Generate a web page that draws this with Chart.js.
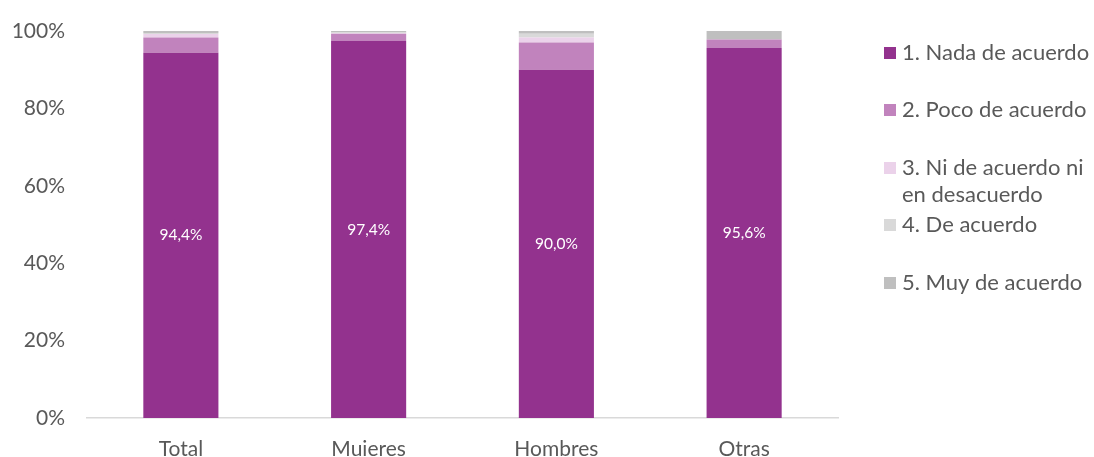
<!DOCTYPE html>
<html>
<head>
<meta charset="utf-8">
<script src="https://cdn.jsdelivr.net/npm/chart.js@4.4.1/dist/chart.umd.min.js"></script>
<style>
html,body{margin:0;padding:0;background:#fff;}
#wrap{width:1094px;height:457px;position:relative;}
</style>
</head>
<body>
<div id="wrap"><canvas id="c" width="1094" height="457"></canvas></div>
<script>
const categories = ["Total", "Muieres", "Hombres", "Otras"];
const seriesNames = ["1. Nada de acuerdo", "2. Poco de acuerdo", "3. Ni de acuerdo ni en desacuerdo", "4. De acuerdo", "5. Muy de acuerdo"];
const legendLines = [["1. Nada de acuerdo"], ["2. Poco de acuerdo"], ["3. Ni de acuerdo ni", "en desacuerdo"], ["4. De acuerdo"], ["5. Muy de acuerdo"]];
const nada = [94.4, 97.4, 90.0, 95.6];
const poco = [3.9, 1.9, 7.0, 2.2];
const ni = [0.9, 0.1, 1.3, 0.0];
const deAcuerdo = [0.3, 0.2, 1.0, 0.0];
const muy = [0.5, 0.4, 0.7, 2.2];
const yTicks = [0, 20, 40, 60, 80, 100];
const colors = ["#93328E", "#C183BD", "#EBD2EA", "#D9D9D9", "#BFBFBF"];

const values = [nada, poco, ni, deAcuerdo, muy];
const FONT = "Lato, 'Open Sans', sans-serif";

const labelPlugin = {
  id: 'barLabels',
  afterDatasetsDraw(chart) {
    const ctx = chart.ctx;
    const meta = chart.getDatasetMeta(0);
    ctx.save();
    ctx.fillStyle = '#FFFFFF';
    ctx.font = "15.5px " + FONT;
    ctx.textAlign = 'center';
    ctx.textBaseline = 'middle';
    meta.data.forEach((bar, i) => {
      const v = chart.data.datasets[0].data[i];
      const yc = (bar.y + bar.base) / 2;
      ctx.fillText(v.toFixed(1).replace('.', ',') + '%', bar.x, yc);
    });
    ctx.restore();
  }
};

const legendPlugin = {
  id: 'sideLegend',
  afterDraw(chart) {
    const ctx = chart.ctx;
    const ys = [53, 110, 168, 225, 283];
    const lineH = 27;
    ctx.save();
    ctx.font = "22px " + FONT;
    ctx.textBaseline = 'middle';
    ctx.textAlign = 'left';
    chart.data.datasets.forEach((ds, i) => {
      ctx.fillStyle = ds.backgroundColor;
      ctx.fillRect(884, ys[i] - 6, 12, 12);
      ctx.fillStyle = '#595959';
      legendLines[i].forEach((t, k) => ctx.fillText(t, 902, ys[i] + k * lineH));
    });
    ctx.restore();
  }
};

new Chart(document.getElementById('c'), {
  type: 'bar',
  data: {
    labels: categories,
    datasets: seriesNames.map((n, i) => ({
      label: n,
      data: values[i],
      backgroundColor: colors[i],
      borderWidth: 0,
      barPercentage: 0.4,
      categoryPercentage: 1.0
    }))
  },
  options: {
    responsive: false,
    animation: false,
    devicePixelRatio: 1,
    layout: { padding: { top: 31, right: 256, bottom: 0, left: 0 } },
    plugins: { legend: { display: false }, tooltip: { enabled: false } },
    scales: {
      x: {
        stacked: true,
        grid: { display: false, drawTicks: false },
        border: { display: true, color: '#D9D9D9', width: 1.5 },
        ticks: { color: '#595959', font: { size: 21, family: FONT }, padding: 19 },
        afterFit(s) { s.height = 39; }
      },
      y: {
        stacked: true,
        min: 0, max: 100,
        grid: { display: false, drawTicks: false },
        border: { display: false },
        afterBuildTicks(s) { s.ticks = yTicks.map(v => ({ value: v })); },
        ticks: { color: '#595959', font: { size: 21, family: FONT }, padding: 22, callback: v => v + '%' },
        afterFit(s) { s.width = 87; s.paddingTop = 0; s.paddingBottom = 0; }
      }
    }
  },
  plugins: [labelPlugin, legendPlugin]
});
</script>
</body>
</html>
